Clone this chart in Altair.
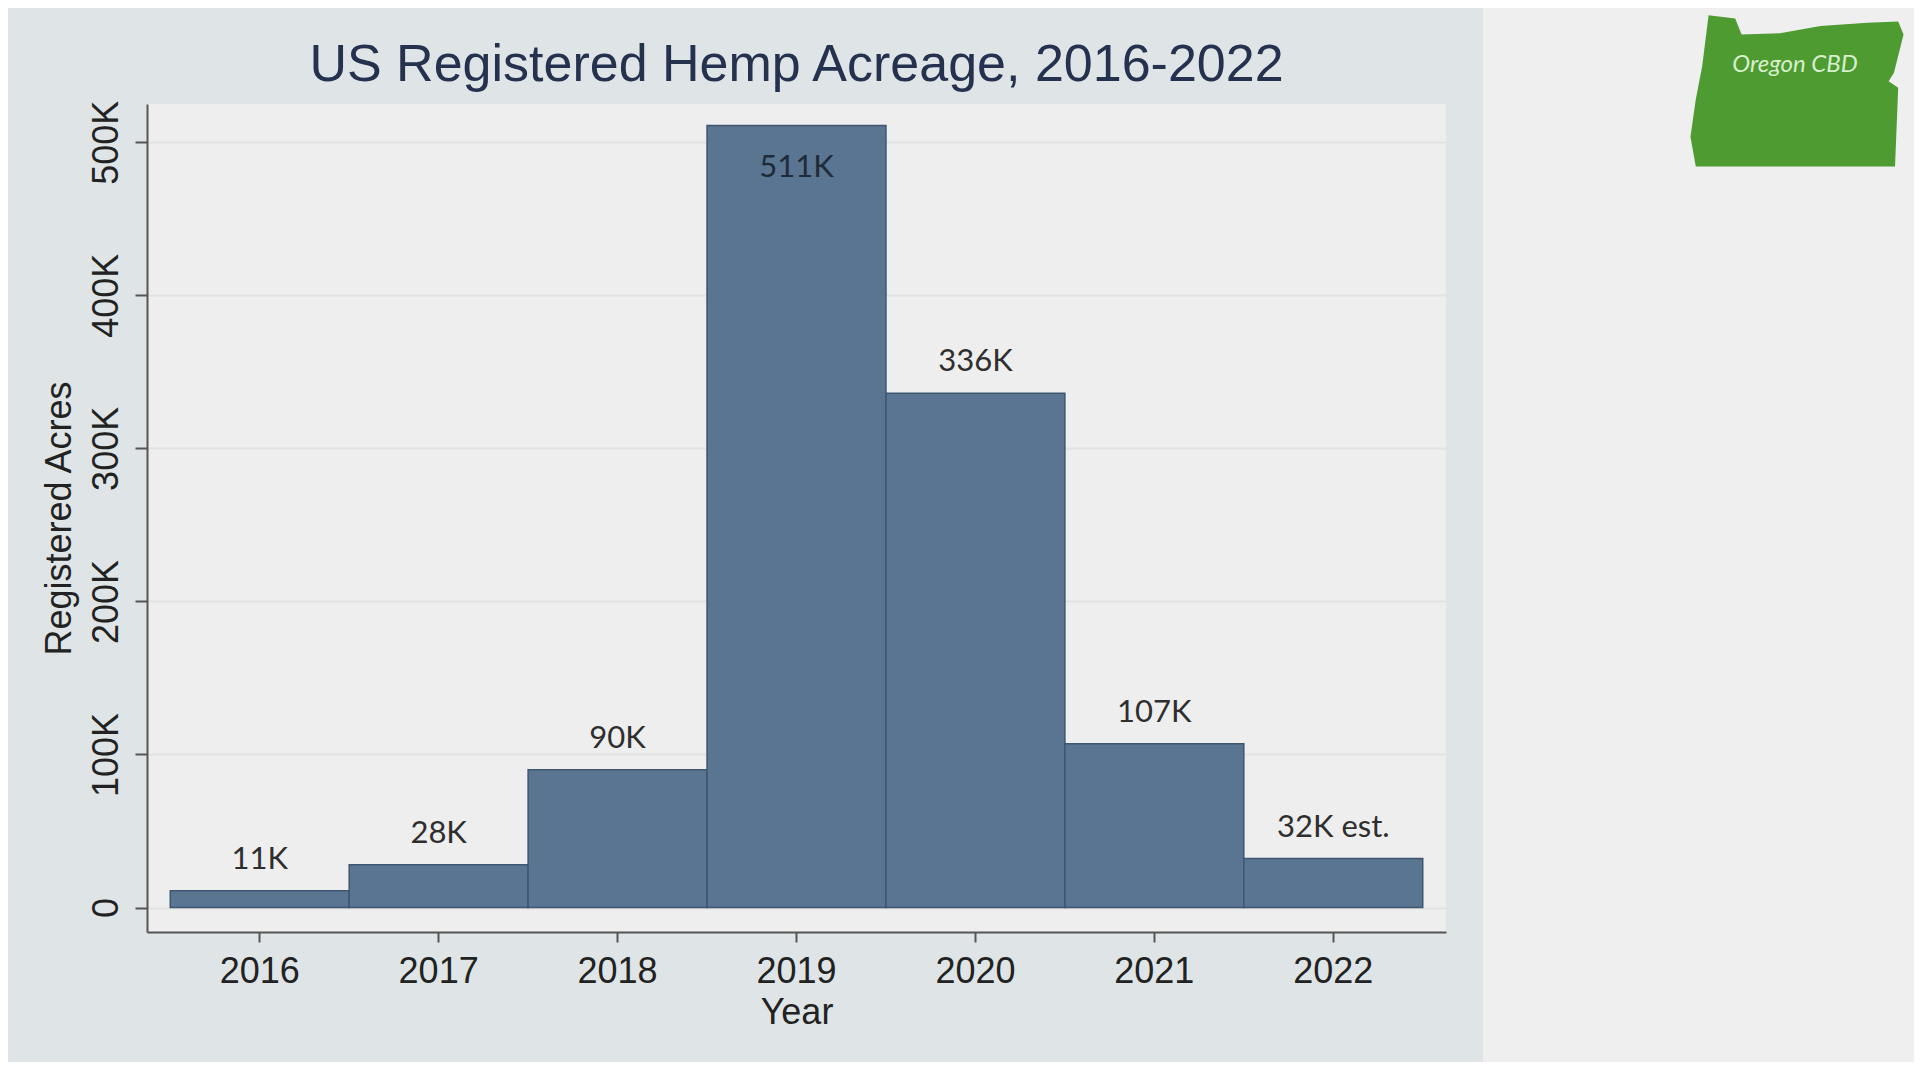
import altair as alt
import pandas as pd

years = ["2016", "2017", "2018", "2019", "2020", "2021", "2022"]
acres = [11000, 28000, 90000, 511000, 336000, 107000, 32000]
labels = ["11K", "28K", "90K", "511K", "336K", "107K", "32K est."]
inside = [False, False, False, True, False, False, False]
y_ticks = [0, 100000, 200000, 300000, 400000, 500000]

df = pd.DataFrame({"year": years, "acres": acres, "label": labels, "inside": inside})
one = pd.DataFrame({"k": [0]})

FONT = "Liberation Sans"
LABEL_FONT = "Lato"

xenc = alt.X(
    "year:N",
    title="Year",
    sort=years,
    scale=alt.Scale(paddingInner=0, paddingOuter=0.13),
    axis=alt.Axis(
        labelAngle=0, labelFontSize=36, labelFont=FONT, labelColor="#222222",
        titleFontSize=36, titleFont=FONT, titleColor="#222222", titleFontWeight="normal",
        titlePadding=6, labelPadding=12, tickSize=10, tickWidth=2, tickColor="#555555",
        domainColor="#555555", domainWidth=2, grid=False,
    ),
)
yenc = alt.Y(
    "acres:Q",
    title="Registered Acres",
    scale=alt.Scale(domain=[-16000, 525000], nice=False, zero=False),
    axis=alt.Axis(
        values=y_ticks,
        labelExpr="datum.value == 0 ? '0' : (datum.value / 1000) + 'K'",
        labelAngle=270, labelAlign="center", labelBaseline="bottom",
        labelFontSize=36, labelFont=FONT, labelColor="#222222", labelPadding=10,
        titleFontSize=36, titleFont=FONT, titleColor="#222222", titleFontWeight="normal",
        titlePadding=10, tickSize=12, tickWidth=2, tickColor="#555555",
        domainColor="#555555", domainWidth=2,
        grid=True, gridColor="#e2e2e2", gridWidth=2,
    ),
)

right_panel = alt.Chart(one).mark_rect(color="#efefef").encode(
    x=alt.value(1336), x2=alt.value(1775), y=alt.value(-96), y2=alt.value(958)
)

oregon_path = (
    "M-0.83,-0.73 L-0.58,-0.70 L-0.52,-0.55 L-0.16,-0.56 L0.22,-0.63 L0.66,-0.66 "
    "L0.95,-0.67 L1.0,-0.55 L0.91,-0.19 L0.86,-0.11 L0.95,-0.05 L0.92,0.69 "
    "L-0.95,0.69 L-1.0,0.41 L-0.95,0.06 L-0.89,-0.25 Z"
)
logo = alt.Chart(one).mark_point(
    shape=oregon_path, filled=True, color="#4d9b31", opacity=1, size=45400
).encode(x=alt.value(1650), y=alt.value(-11))
logo_text = alt.Chart(one).mark_text(
    text="Oregon CBD", font=LABEL_FONT, fontStyle="italic", fontSize=24,
    color="#d8efcc", align="center", baseline="middle"
).encode(x=alt.value(1648), y=alt.value(-39))

bars = alt.Chart(df).mark_bar(
    color="#5a7591", stroke="#3f5671", strokeWidth=1.5
).encode(x=xenc, y=yenc)

text_above = alt.Chart(df).transform_filter("!datum.inside").mark_text(
    font=LABEL_FONT, fontSize=31, color="#2e2e2e", baseline="alphabetic", dy=-22
).encode(x=alt.X("year:N", sort=years), y="acres:Q", text="label:N")

text_inside = alt.Chart(df).transform_filter("datum.inside").mark_text(
    font=LABEL_FONT, fontSize=31, color="#1f2b38", baseline="alphabetic", dy=52
).encode(x=alt.X("year:N", sort=years), y="acres:Q", text="label:N")

chart = alt.layer(right_panel, logo, logo_text, bars, text_above, text_inside).properties(
    width=1299,
    height=828,
    title=alt.TitleParams(
        "US Registered Hemp Acreage, 2016-2022",
        fontSize=52, font=FONT, color="#24324f", fontWeight="normal",
        anchor="middle", baseline="alphabetic", offset=0, dy=125,
    ),
    autosize=alt.AutoSizeParams(type="none"),
    padding={"left": 139, "top": 96, "right": 468, "bottom": 130},
    background="#dfe5e6",
).configure_view(fill="#eeeeee", stroke=None)

chart.save("out.html", embed_options={"renderer": "svg", "actions": False})
